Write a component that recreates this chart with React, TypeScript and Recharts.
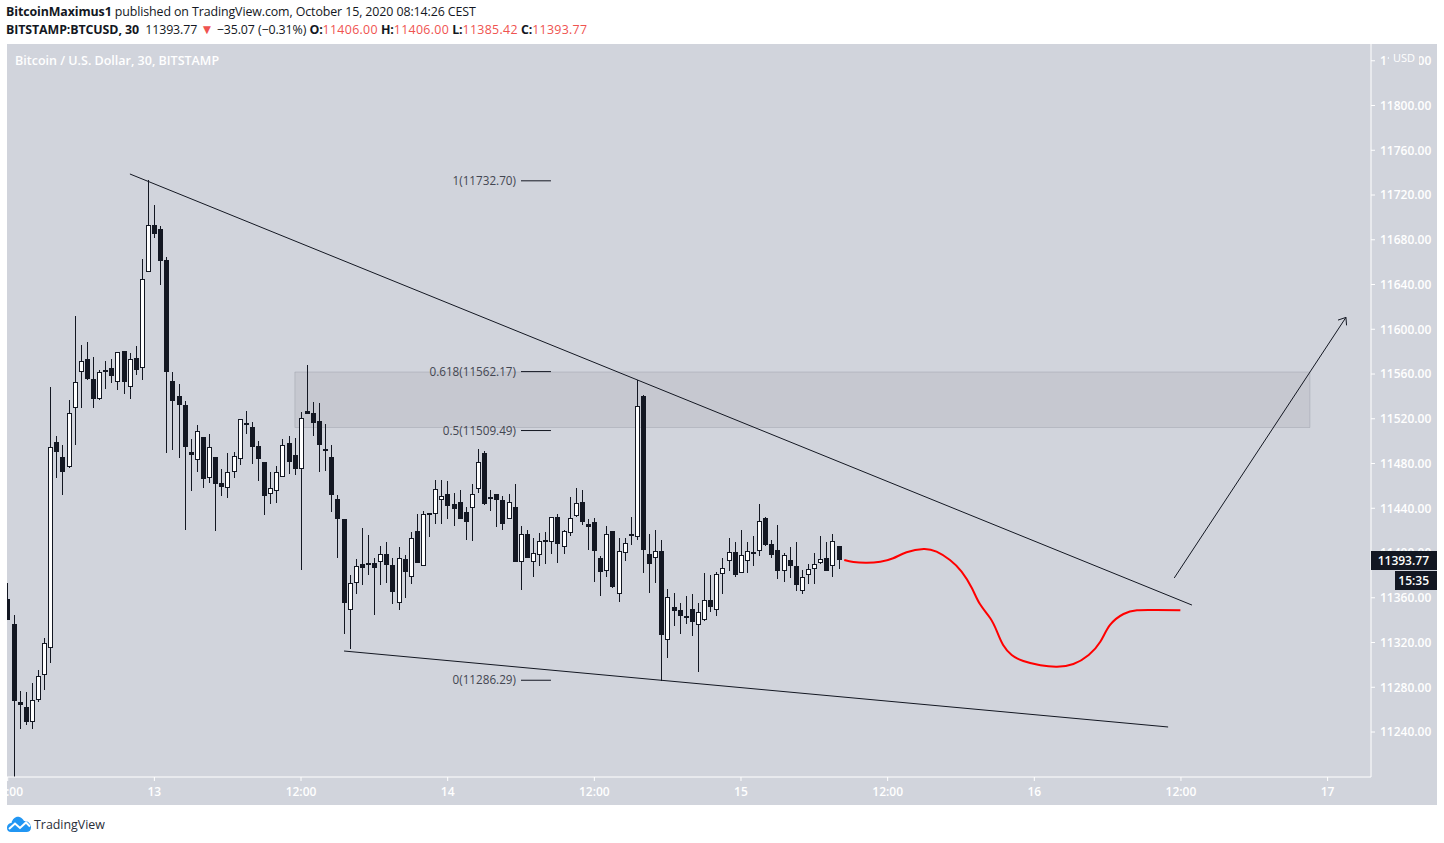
import React from "react";
import { ComposedChart, Bar, Line, XAxis, YAxis, ReferenceLine, ReferenceArea, ReferenceDot } from "recharts";

const opens = [11359,11337,11267,11262,11249,11269,11291,11315,11499,11486,11477,11530,11562,11573,11556,11538,11561.5,11565,11553,11581,11548,11574,11565,11651,11693,11690,11662,11554,11540,11532,11490,11483,11504,11467,11486,11463,11458,11472,11484,11514,11513,11496,11481,11453,11455,11468,11498,11488,11475,11527,11525,11518,11493,11486,11448,11430,11349,11373,11390,11389,11391,11392,11399,11389,11355,11395,11379,11420,11388,11436,11435,11447,11453,11444,11446,11437,11440,11457,11489,11448,11453,11447,11430,11441,11392,11417,11392,11398,11412,11410,11432,11405,11418,11433,11446,11426,11428,11396,11384,11420,11363,11400,11417,11414,11540,11399,11396,11402,11322,11352,11349,11344,11350,11336,11340,11358,11349,11381,11393,11401,11382,11393,11401,11402,11431,11408,11403,11384,11394,11388,11366,11380,11386,11391,11396,11388,11406];
const closes = [11340,11268,11264,11249,11269,11290,11320,11495,11490,11472,11525,11553,11572,11556,11538,11562,11563.5,11558,11580,11553,11573,11564,11645,11693,11685,11661,11562,11536,11532,11495,11488,11509,11466,11495,11462,11459,11472,11487,11520,11516,11495,11484,11451,11458,11472,11497,11481,11475,11521,11524,11516,11497,11491,11452,11430,11355,11373,11388,11387,11391,11387,11399,11389,11365,11396,11383,11413,11391,11435,11434,11457,11451,11442,11439,11430,11428,11453,11481,11444,11450,11447,11426,11446,11392,11417,11396,11400,11411,11410,11432,11408,11420,11431,11445,11428,11423,11402,11383,11417,11370,11402,11409,11415,11531,11403,11390,11402,11327,11361,11348,11344,11342,11338,11347,11358,11352,11381,11387,11401,11380,11398,11402,11399,11429,11407,11398,11384,11398,11388,11371,11379,11386,11390,11395,11384,11411,11393.77];
const highs = [11373,11345,11277,11276,11284,11295,11324,11548,11505,11497,11537,11612,11586,11589,11575,11564,11572,11573,11580,11581,11579,11585,11663,11733,11711,11692,11665,11562,11551,11536,11502,11514,11504,11506,11486,11475,11489,11490,11520,11527,11517,11500,11481,11472,11478,11502,11505,11503,11526,11568,11535,11534,11515,11497,11452,11430,11380,11395,11422,11416,11396,11406,11410,11396,11405,11398,11419,11435,11438,11436,11465,11465,11464,11454,11456,11441,11462,11493,11491,11456,11453,11451,11453,11462,11424,11421,11413,11418,11419,11432,11435,11421,11450,11458,11456,11430,11431,11397,11424,11420,11413,11413,11432,11555,11541,11417,11421,11412,11368,11364,11355,11362,11363,11355,11382,11380,11383,11396,11413,11410,11421,11410,11415,11444,11432,11412,11425,11400,11405,11410,11385,11390,11400,11415,11410,11417,11406];
const lows = [11340,11200,11243,11246,11243,11267,11278,11302,11467,11452,11476,11497,11530,11555,11530,11537,11547,11552,11546,11542,11538,11559,11555,11651,11682,11640,11489,11492,11485,11421,11455,11472,11458,11463,11420,11451,11449,11467,11479,11506,11480,11464,11434,11444,11445,11468,11471,11470,11385,11524,11505,11472,11473,11437,11396,11328,11314,11363,11371,11380,11345,11371,11373,11354,11349,11360,11372,11391,11388,11414,11426,11426,11430,11424,11430,11412,11411,11454,11443,11438,11423,11421,11430,11392,11367,11396,11379,11388,11390,11399,11391,11399,11415,11432,11425,11403,11374,11362,11379,11369,11356,11393,11407,11412,11382,11364,11373,11286,11306,11335,11328,11337,11326,11294,11339,11347,11344,11363,11384,11379,11382,11382,11388,11397,11406,11396,11377,11374,11378,11366,11363,11372,11372,11390,11384,11379,11385.42];

const candles = opens.map((o, i) => ({ i, open: o, close: closes[i], high: highs[i], low: lows[i] }));

const redIdx = [136.9,138.4,140.6,142.8,144.9,147.1,149.9,152,154.2,156.1,157.8,159.1,160.8,161.9,162.9,164.3,166.2,169,171.7,174.4,176.9,178.8,180.4,182.6,184.8,188,191.9];
const redPrice = [11393.8,11392,11391.4,11392.3,11395.3,11400.7,11403.6,11401.2,11393.8,11383.3,11368.5,11354.4,11341.7,11329.7,11317.8,11308.9,11303.5,11299.7,11298.4,11300.8,11308.9,11320.7,11335.7,11345.5,11348.8,11349,11348.8];
const redCurve = redIdx.map((i, k) => ({ i, price: redPrice[k] }));

const priceTicks = [11240,11280,11320,11360,11400,11440,11480,11520,11560,11600,11640,11680,11720,11760,11800,11840];
const timeTicks = [0,24,48,72,96,120,144,168,192,216];
const timeLabels = ["12:00","13","12:00","14","12:00","15","12:00","16","12:00","17"];

const fibLevels = [
  { label: "1(11732.70)", price: 11732.7 },
  { label: "0.618(11562.17)", price: 11562.17 },
  { label: "0.5(11509.49)", price: 11509.49 },
  { label: "0(11286.29)", price: 11286.29 },
];
const fibStart = 84;
const fibEnd = 88.9;

const upperTrend = [{ x: 20, y: 11738.8 }, { x: 193.8, y: 11353.5 }];
const lowerTrend = [{ x: 55.04, y: 11312.4 }, { x: 189.9, y: 11244.5 }];
const arrowShaft = [{ x: 190.9, y: 11377.7 }, { x: 219, y: 11610.6 }];
const arrowBarbA = [{ x: 219, y: 11610.6 }, { x: 217.7, y: 11608.2 }];
const arrowBarbB = [{ x: 219, y: 11610.6 }, { x: 219.1, y: 11603.5 }];
const zone = { x1: 47, x2: 213.1, y1: 11512.2, y2: 11561.8 };

const INK = "#131722";
const BG = "#d1d4dc";
const RED = "#ef5350";
const PLOT_LEFT = 7;
const UI = "'Open Sans', 'Noto Sans', sans-serif";

const Candle = (props: any) => {
  const { x, y, width, height, payload } = props;
  const { open, close, high, low } = payload;
  const range = high - low || 1;
  const toY = (p: number) => y + ((high - p) / range) * height;
  const cx = Math.round(x + width / 2) + 0.5;
  const top = Math.round(toY(Math.max(open, close)));
  const bottom = Math.round(toY(Math.min(open, close)));
  const up = close >= open;
  const h = Math.max(bottom - top, 2);
  const left = Math.max(cx - 2.5, PLOT_LEFT);
  const w = cx + 2.5 - left;
  return (
    <g shapeRendering="crispEdges">
      <line x1={cx} x2={cx} y1={y} y2={y + height} stroke={INK} strokeWidth={1} />
      {up ? (
        <rect x={left + 0.5} y={top + 0.5} width={w - 1} height={h - 1} fill="#ffffff" stroke={INK} strokeWidth={1} />
      ) : (
        <rect x={left} y={top} width={w} height={h} fill={INK} />
      )}
    </g>
  );
};

const abs = (s: React.CSSProperties): React.CSSProperties => ({ position: "absolute", whiteSpace: "nowrap", ...s });

const Val = ({ children }: { children: React.ReactNode }) => (
  <span style={{ color: RED, letterSpacing: 0.3 }}>{children}</span>
);

const Logo = () => (
  <svg width="26" height="18" viewBox="0 0 26 18" style={{ position: "absolute", left: 6, top: 815 }}>
    <path d="M1 13 C1 9 4 8 5.5 8 C6.5 3.5 10 1 13.5 2 C16 2.8 17 4.5 18 6 C21.5 5.5 25 8.5 25 12.5 C25 15.5 23 17 20.5 17 L5 17 C2.5 17 1 15.5 1 13 Z" fill="#2196f3" />
    <path d="M3 14 L9 8.5 L14 13 L20 7.5 L24 11.5" fill="none" stroke="#ffffff" strokeWidth="2" />
  </svg>
);

export default function App() {
  return (
    <div style={{ position: "absolute", left: 0, top: 0, width: 1444, height: 843, background: "#ffffff", overflow: "hidden", fontFamily: UI, color: INK }}>
      <div style={abs({ left: 6, top: 4, fontSize: 12.4, lineHeight: "16px", letterSpacing: -0.1 })}>
        <b>BitcoinMaximus1</b> published on TradingView.com, October 15, 2020 08:14:26 CEST
      </div>
      <div style={abs({ left: 6, top: 22, fontSize: 12.4, lineHeight: "16px", letterSpacing: -0.1 })}>
        <b>BITSTAMP:BTCUSD, 30</b>&nbsp; 11393.77 <span style={{ color: RED, fontSize: 13.5, lineHeight: "12px" }}>▼</span> −35.07 (−0.31%) <b>O:</b><Val>11406.00</Val> <b>H:</b><Val>11406.00</Val> <b>L:</b><Val>11385.42</Val> <b>C:</b><Val>11393.77</Val>
      </div>
      <div style={abs({ left: 7, top: 44, width: 1430, height: 761, background: BG })} />
      <ComposedChart
        width={1444}
        height={843}
        data={candles}
        margin={{ top: 44, right: 7, bottom: 38, left: 7 }}
        style={{ position: "absolute", left: 0, top: 0 }}
      >
        <XAxis
          xAxisId="t"
          dataKey="i"
          type="number"
          domain={[-0.115, 223.1]}
          ticks={timeTicks}
          tickFormatter={(v: number) => timeLabels[timeTicks.indexOf(v)]}
          height={28}
          stroke="#ffffff"
          tickSize={4}
          tick={{ fill: "#ffffff", fontSize: 12, fontWeight: 600, fontFamily: UI }}
          tickMargin={6}
          interval={0}
          allowDataOverflow
        />
        <YAxis
          yAxisId="p"
          orientation="right"
          type="number"
          domain={[11199.8, 11855]}
          ticks={priceTicks}
          tickFormatter={(v: number) => v.toFixed(2)}
          width={66}
          stroke="#ffffff"
          tickSize={4}
          tick={{ fill: "#ffffff", fontSize: 12, fontWeight: 600, fontFamily: UI, textAnchor: "start" }}
          tickMargin={5}
          interval={0}
          allowDataOverflow
        />
        <Bar
          xAxisId="t"
          yAxisId="p"
          dataKey={(d: any) => [d.low, d.high]}
          barSize={5}
          shape={<Candle />}
          isAnimationActive={false}
        />
        <ReferenceArea xAxisId="t" yAxisId="p" x1={zone.x1} x2={zone.x2} y1={zone.y1} y2={zone.y2} fill="#787b86" fillOpacity={0.13} stroke="#787b86" strokeOpacity={0.25} strokeWidth={1} ifOverflow="visible" />
        <Line
          xAxisId="t"
          yAxisId="p"
          data={redCurve}
          dataKey="price"
          type="natural"
          stroke="#ff0000"
          strokeWidth={2}
          dot={false}
          activeDot={false}
          isAnimationActive={false}
        />
        {[upperTrend, lowerTrend, arrowShaft, arrowBarbA, arrowBarbB].map((seg, k) => (
          <ReferenceLine key={k} xAxisId="t" yAxisId="p" segment={seg} stroke={INK} strokeWidth={1} ifOverflow="visible" />
        ))}
        {fibLevels.map((f) => (
          <ReferenceLine key={f.label} xAxisId="t" yAxisId="p" segment={[{ x: fibStart, y: f.price }, { x: fibEnd, y: f.price }]} stroke={INK} strokeWidth={1} ifOverflow="visible" />
        ))}
        {fibLevels.map((f) => (
          <ReferenceDot
            key={f.label + "t"}
            xAxisId="t"
            yAxisId="p"
            x={fibStart}
            y={f.price}
            r={0}
            stroke="none"
            ifOverflow="visible"
            label={{ value: f.label, position: "left", offset: 5, fill: "#434651", fontSize: 11.7, fontFamily: UI }}
          />
        ))}
      </ComposedChart>
      <div style={abs({ left: 15, top: 53, fontSize: 12.5, fontWeight: 600, lineHeight: "16px", color: "#ffffff" })}>Bitcoin / U.S. Dollar, 30, BITSTAMP</div>
      <div style={abs({ left: 1389, top: 50, width: 30, height: 16, background: BG, color: "#ffffff", fontSize: 11, lineHeight: "16px", textAlign: "center" })}>USD</div>
      <div style={abs({ left: 1371, top: 551, width: 66, height: 19, background: INK, color: "#ffffff", fontSize: 12, fontWeight: 600, lineHeight: "19px", textAlign: "right", paddingRight: 8, boxSizing: "border-box" })}>11393.77</div>
      <div style={abs({ left: 1395, top: 571, width: 42, height: 19, background: INK, color: "#ffffff", fontSize: 12, fontWeight: 600, lineHeight: "19px", textAlign: "right", paddingRight: 8, boxSizing: "border-box" })}>15:35</div>
      <Logo />
      <div style={abs({ left: 34, top: 817, fontSize: 12.4, lineHeight: "16px", color: "#2a2e39" })}>TradingView</div>
    </div>
  );
}
